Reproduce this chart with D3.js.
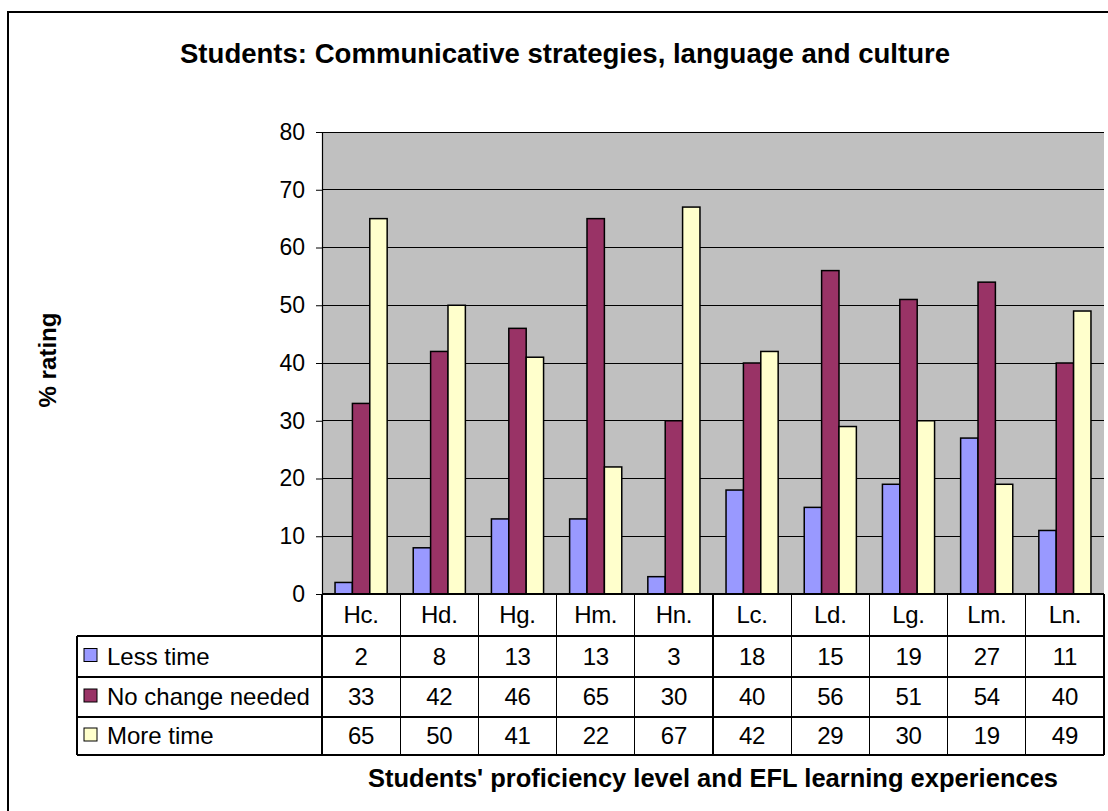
<!DOCTYPE html>
<html>
<head>
<meta charset="utf-8">
<script src="https://cdn.jsdelivr.net/npm/d3@7"></script>
<style>
  html, body { margin: 0; padding: 0; background: #fff; }
  svg { display: block; font-family: "Liberation Sans", Arial, sans-serif; }
</style>
</head>
<body>
<svg id="chart" width="1108" height="811"></svg>
<script>
// Categories and series values
const categories = ["Hc.", "Hd.", "Hg.", "Hm.", "Hn.", "Lc.", "Ld.", "Lg.", "Lm.", "Ln."];
const lessTime = [2, 8, 13, 13, 3, 18, 15, 19, 27, 11];
const noChangeNeeded = [33, 42, 46, 65, 30, 40, 56, 51, 54, 40];
const moreTime = [65, 50, 41, 22, 67, 42, 29, 30, 19, 49];
const seriesNames = ["Less time", "No change needed", "More time"];
const yTicks = [0, 10, 20, 30, 40, 50, 60, 70, 80];

const series = [
  { name: seriesNames[0], values: lessTime, color: "#9999FF" },
  { name: seriesNames[1], values: noChangeNeeded, color: "#993366" },
  { name: seriesNames[2], values: moreTime, color: "#FFFFCC" }
];

const svg = d3.select("#chart");
const W = 1108, H = 811;
const plot = { left: 322, right: 1104, top: 132, bottom: 594 };
const rows = [594, 636, 677, 717, 755];   // table row boundaries
const tableLeft = 77;
const font = 24;

// Outer chart border
svg.append("rect")
  .attr("x", 8).attr("y", 12)
  .attr("width", W).attr("height", H)
  .attr("fill", "#fff").attr("stroke", "#000").attr("stroke-width", 2);

const x0 = d3.scaleBand().domain(categories).range([plot.left, plot.right]).paddingInner(0).paddingOuter(0);
const x1 = d3.scaleBand().domain(seriesNames).range([0, x0.bandwidth()]).paddingInner(0).paddingOuter(0.75);
const y = d3.scaleLinear().domain([0, 80]).range([plot.bottom, plot.top]);

// Plot area
svg.append("rect")
  .attr("x", plot.left).attr("y", plot.top)
  .attr("width", plot.right - plot.left).attr("height", plot.bottom - plot.top)
  .attr("fill", "#C0C0C0");

// Gridlines
svg.append("g").selectAll("line").data(yTicks.filter(d => d > 0)).join("line")
  .attr("x1", plot.left).attr("x2", plot.right)
  .attr("y1", d => y(d)).attr("y2", d => y(d))
  .attr("stroke", "#000").attr("stroke-width", 1).attr("shape-rendering", "crispEdges");

// Bars
const groups = svg.append("g").selectAll("g").data(series).join("g")
  .attr("fill", d => d.color);
groups.selectAll("rect").data(s => s.values.map((v, i) => ({ s: s.name, cat: categories[i], v })))
  .join("rect")
  .attr("x", d => x0(d.cat) + x1(d.s))
  .attr("width", x1.bandwidth())
  .attr("y", d => y(d.v))
  .attr("height", d => y(0) - y(d.v))
  .attr("stroke", "#000").attr("stroke-width", 1.5);

// Y axis
const yAxis = svg.append("g")
  .attr("transform", `translate(${plot.left},0)`)
  .call(d3.axisLeft(y).tickValues(yTicks).tickSize(6).tickPadding(11).tickSizeOuter(0));
yAxis.select(".domain").attr("stroke", "#000").attr("stroke-width", 1.2);
yAxis.selectAll(".tick line").attr("stroke", "#000");
yAxis.selectAll(".tick text")
  .attr("font-size", 23).attr("font-family", "Liberation Sans, Arial, sans-serif")
  .attr("fill", "#000");

// Data table
const tbl = svg.append("g").attr("stroke", "#000").attr("stroke-width", 1.2).attr("shape-rendering", "crispEdges");
tbl.append("line").attr("x1", plot.left).attr("x2", plot.right).attr("y1", rows[0]).attr("y2", rows[0]);
rows.slice(1).forEach(r => {
  tbl.append("line").attr("x1", tableLeft).attr("x2", plot.right).attr("y1", r).attr("y2", r);
});
tbl.append("line").attr("x1", tableLeft).attr("x2", tableLeft).attr("y1", rows[1]).attr("y2", rows[4]);
categories.forEach(c => {
  tbl.append("line").attr("x1", x0(c)).attr("x2", x0(c)).attr("y1", rows[0]).attr("y2", rows[4]);
});
tbl.append("line").attr("x1", plot.right).attr("x2", plot.right).attr("y1", rows[0]).attr("y2", rows[4]);

const txt = svg.append("g").attr("font-size", font).attr("fill", "#000").attr("letter-spacing", -0.3);
// category header
txt.selectAll("text.cat").data(categories).join("text")
  .attr("class", "cat")
  .attr("x", d => x0(d) + x0.bandwidth() / 2)
  .attr("y", (rows[0] + rows[1]) / 2 + 8)
  .attr("text-anchor", "middle")
  .text(d => d);

series.forEach((s, si) => {
  const mid = (rows[si + 1] + rows[si + 2]) / 2 + 8;
  txt.selectAll(`text.v${si}`).data(s.values).join("text")
    .attr("class", `v${si}`)
    .attr("x", (d, i) => x0(categories[i]) + x0.bandwidth() / 2)
    .attr("y", mid)
    .attr("text-anchor", "middle")
    .text(d => d);
  // legend key
  svg.append("rect")
    .attr("x", 84).attr("y", mid - 16)
    .attr("width", 13).attr("height", 13)
    .attr("fill", s.color).attr("stroke", "#000").attr("stroke-width", 1);
  txt.append("text")
    .attr("x", 107).attr("y", mid)
    .attr("letter-spacing", 0)
    .text(s.name);
});

// Title
svg.append("text")
  .attr("x", 565).attr("y", 63)
  .attr("text-anchor", "middle")
  .attr("font-size", 27).attr("font-weight", "bold")
  .attr("textLength", 770).attr("lengthAdjust", "spacingAndGlyphs")
  .text("Students: Communicative strategies, language and culture");

// Axis titles
svg.append("text")
  .attr("x", (plot.left + plot.right) / 2).attr("y", 787)
  .attr("text-anchor", "middle")
  .attr("font-size", 25).attr("font-weight", "bold")
  .attr("textLength", 690).attr("lengthAdjust", "spacingAndGlyphs")
  .text("Students' proficiency level and EFL learning experiences");

svg.append("text")
  .attr("transform", "translate(56,360) rotate(-90)")
  .attr("text-anchor", "middle")
  .attr("font-size", 23).attr("font-weight", "bold")
  .attr("textLength", 95).attr("lengthAdjust", "spacingAndGlyphs")
  .text("% rating");
</script>
</body>
</html>
